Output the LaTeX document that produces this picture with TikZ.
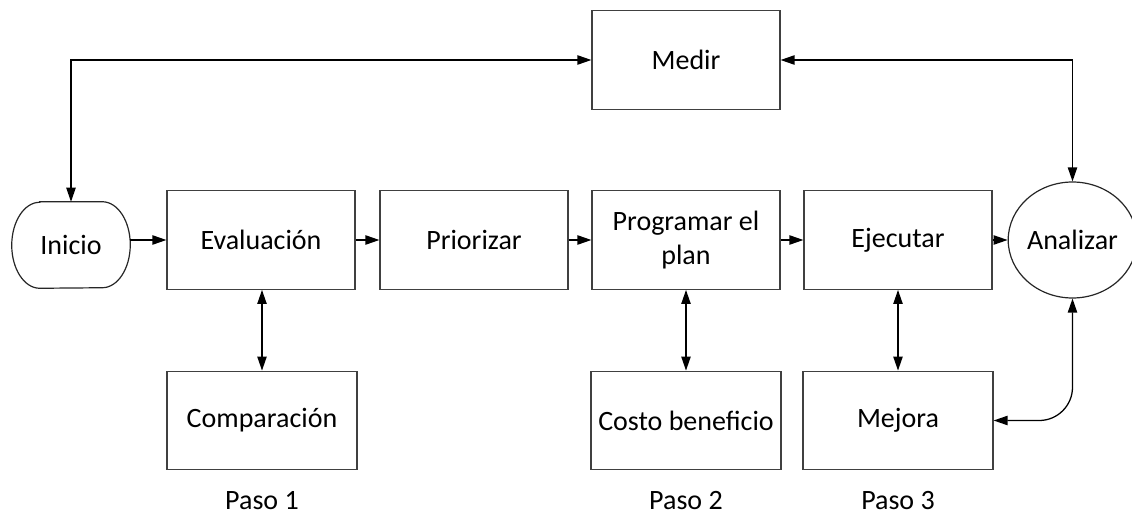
\documentclass[tikz,border=0pt]{standalone}
\usepackage{fontspec}
\setmainfont{Carlito}
\usetikzlibrary{arrows.meta,shapes.geometric}

\begin{document}
\begin{tikzpicture}[x=0.75pt,y=-0.75pt,
  txt/.style={font=\fontsize{21}{26}\selectfont, align=center},
  box/.style={txt, draw=black!75, line width=0.9pt, rectangle,
              minimum width=141pt, minimum height=74pt, inner sep=2pt},
  lowbox/.style={box, minimum width=142.5pt},
  steplabel/.style={txt, anchor=base, inner sep=0pt, text depth=0pt},
  conn/.style={line width=0.95pt, black, -{Triangle[length=10.5pt,width=7pt]}},
  biconn/.style={line width=0.95pt, black,
                 {Triangle[length=10.5pt,width=7pt]}-{Triangle[length=10.5pt,width=7pt]}}]

\useasboundingbox (0,0) rectangle (1132,514);

% start terminal: flat top and bottom, elliptical ends
\node[txt, minimum width=88.5pt, minimum height=64.5pt, inner sep=0pt] (ini) at (71,245) {Inicio};
\draw[draw=black!85, line width=0.9pt]
  ([xshift=21pt]ini.north west) -- ([xshift=-21pt]ini.north east)
  arc[start angle=90, end angle=-90, x radius=21pt, y radius=32.25pt]
  -- ([xshift=21pt]ini.south west)
  arc[start angle=270, end angle=90, x radius=21pt, y radius=32.25pt]
  -- cycle;

% main row
\node[box] (eva) at (261,240) {Evaluación};
\node[box] (pri) at (474,240) {Priorizar};
\node[box] (pro) at (686,240) {Programar el\\plan};
\node[box] (eje) at (898,240) {Ejecutar};
\node[txt, draw=black!85, line width=0.9pt, ellipse, inner sep=0pt,
      minimum width=83.25pt, minimum height=87pt] (ana) at (1072.5,240) {Analizar};

% measurement box on top
\node[box] (med) at (686,60) {Medir};

% supporting boxes below
\node[lowbox] (com) at (262,420.5) {Comparación};
\node[lowbox] (cos) at (686,420.5) {Costo beneficio};
\node[lowbox] (mej) at (898,420.5) {Mejora};

% step labels
\node[steplabel] (p1) at (262,509) {Paso 1};
\node[steplabel] (p2) at (686,509) {Paso 2};
\node[steplabel] (p3) at (898,509) {Paso 3};

% main flow
\draw[conn] (ini.east |- eva.west) -- (eva.west);
\draw[conn] (eva) -- (pri);
\draw[conn] (pri) -- (pro);
\draw[conn] (pro) -- (eje);
\draw[conn] (eje.east) -- (ana.west);

% feedback through Medir
\draw[biconn] (ini.north) |- (med.west);
\draw[biconn] (med.east) -| (ana.north);

% links to supporting boxes
\draw[biconn] (eva.south -| com.north) -- (com.north);
\draw[biconn] (pro.south -| cos.north) -- (cos.north);
\draw[biconn] (eje.south -| mej.north) -- (mej.north);
\draw[biconn, rounded corners=25pt] (mej.east) -| (ana.south);

\end{tikzpicture}
\end{document}
